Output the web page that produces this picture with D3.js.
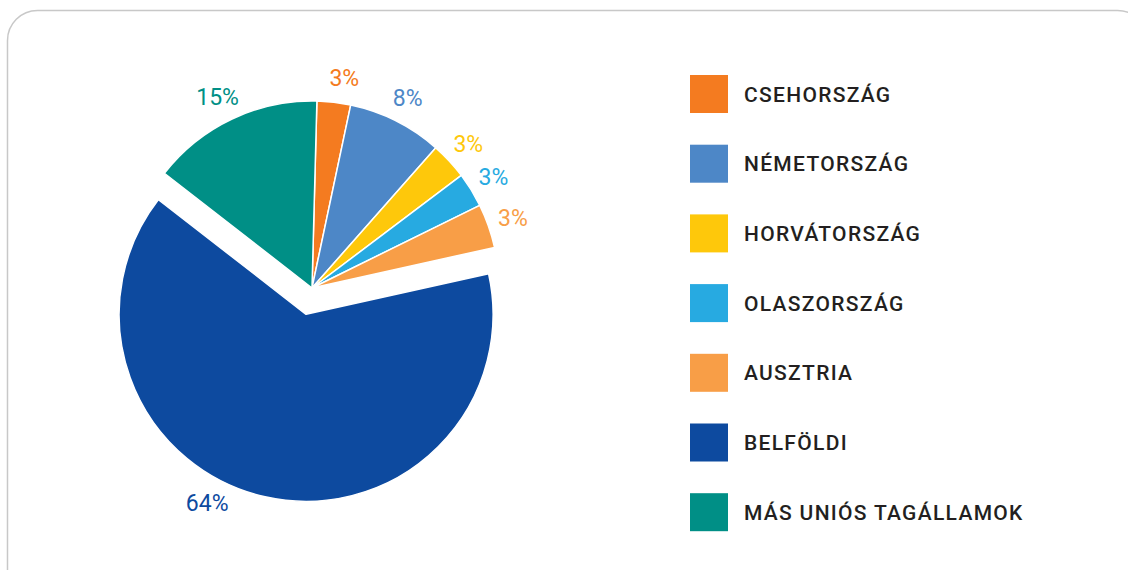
<!DOCTYPE html>
<html>
<head>
<meta charset="utf-8">
<script src="https://cdn.jsdelivr.net/npm/d3@7"></script>
<style>
  body { margin: 0; background: #fff; }
  svg text { font-family: Roboto, "DejaVu Sans", sans-serif; }
</style>
</head>
<body>
<svg id="chart" width="1128" height="570"></svg>
<script>
// data (share of each origin, in %)
const categories = ["CSEHORSZÁG", "NÉMETORSZÁG", "HORVÁTORSZÁG", "OLASZORSZÁG", "AUSZTRIA", "BELFÖLDI", "MÁS UNIÓS TAGÁLLAMOK"];
const values = [2.9, 8.2, 3.2, 3.0, 3.8, 64.0, 14.9];
const valueLabels = ["3%", "8%", "3%", "3%", "3%", "64%", "15%"];
const colors = ["#f47b20", "#4d87c7", "#fec80b", "#27aae1", "#f89e47", "#0d4a9f", "#008f86"];

const svg = d3.select("#chart");

// rounded frame, running off the right/bottom edge
svg.append("rect")
  .attr("x", 7.5)
  .attr("y", 10.5)
  .attr("width", 1140)
  .attr("height", 620)
  .attr("rx", 30)
  .attr("fill", "none")
  .attr("stroke", "#c8c8c8")
  .attr("stroke-width", 1.5);

const cx = 312;
const cy = 288;
const radius = 187;
const explodeIndex = 5; // belföldi pulled out
const explodeDist = 27;
const startOffset = 1.5 * Math.PI / 180;

const data = categories.map((c, i) => ({ name: c, value: values[i], label: valueLabels[i], color: colors[i] }));

const pie = d3.pie()
  .sort(null)
  .value((d) => d.value)
  .startAngle(startOffset)
  .endAngle(startOffset + 2 * Math.PI);

const arcs = pie(data);
const arc = d3.arc().innerRadius(0).outerRadius(radius);

const g = svg.append("g").attr("transform", `translate(${cx},${cy})`);

const offsetOf = (d, i) => {
  if (i !== explodeIndex) return [0, 0];
  const a = (d.startAngle + d.endAngle) / 2;
  return [Math.sin(a) * explodeDist, -Math.cos(a) * explodeDist];
};

g.selectAll(".slice")
  .data(arcs)
  .join("path")
  .attr("class", "slice")
  .attr("transform", (d, i) => `translate(${offsetOf(d, i)})`)
  .attr("d", arc)
  .attr("fill", (d) => d.data.color)
  .attr("stroke", "#fff")
  .attr("stroke-width", 1.5)
  .attr("stroke-linejoin", "round");

// percent labels outside the slices
const labelR = 213;
const labelNudge = { 0: 2, 5: 15, 6: -1 }; // degrees, like excel's best fit
g.selectAll(".pct")
  .data(arcs)
  .join("text")
  .attr("class", "pct")
  .attr("transform", (d, i) => {
    const a = (d.startAngle + d.endAngle) / 2 + ((labelNudge[i] || 0) * Math.PI / 180);
    const [ox, oy] = offsetOf(d, i);
    return `translate(${ox + Math.sin(a) * labelR},${oy - Math.cos(a) * labelR})`;
  })
  .attr("text-anchor", "middle")
  .attr("dy", "0.36em")
  .attr("fill", (d) => d.data.color)
  .style("font-size", "23px")
  .style("font-weight", 400)
  .text((d) => d.data.label);

// legend
const legend = svg.append("g").attr("transform", "translate(690,75)");
const rowStep = 69.7;
const rows = legend.selectAll(".row")
  .data(data)
  .join("g")
  .attr("class", "row")
  .attr("transform", (d, i) => `translate(0,${i * rowStep})`);

rows.append("rect")
  .attr("width", 38)
  .attr("height", 38)
  .attr("fill", (d) => d.color);

rows.append("text")
  .attr("x", 54)
  .attr("y", 19)
  .attr("dy", "0.36em")
  .attr("fill", "#231f20")
  .style("font-size", "21px")
  .style("font-weight", 500)
  .style("letter-spacing", "1.3px")
  .text((d) => d.name);
</script>
</body>
</html>
